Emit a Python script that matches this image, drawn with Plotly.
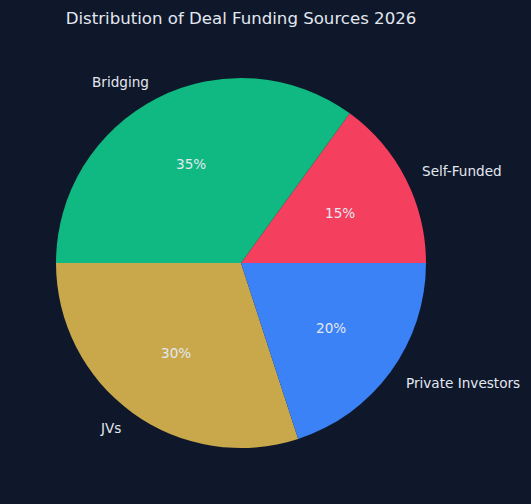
import math
import plotly.graph_objects as go

labels = ["Self-Funded", "Bridging", "JVs", "Private Investors"]
values = [15, 35, 30, 20]
colors = ["#F43F5E", "#10B981", "#C9A84C", "#3B82F6"]

BG = "#0f172a"
TXT = "#E2E8F0"
FONT = "DejaVu Sans"

total = sum(values)
# plotly places the first counterclockwise slice ending at the rotation angle;
# shift so the first slice starts at 3 o'clock (matplotlib startangle=0)
rot = 90 - 360 * values[0] / total

fig = go.Figure(go.Pie(
    labels=labels, values=values, sort=False,
    direction="counterclockwise", rotation=rot,
    marker=dict(colors=colors, line=dict(width=0)),
    textinfo="none", hoverinfo="label+percent", showlegend=False,
))

annotations = []
start = 0.0
for lab, v in zip(labels, values):
    mid = math.radians(start + 360 * v / total / 2)
    start += 360 * v / total
    c, s = math.cos(mid), math.sin(mid)
    annotations.append(dict(
        x=0.5 + 0.55 * c, y=0.5 + 0.55 * s, xref="paper", yref="paper",
        text=lab, showarrow=False, xanchor="left" if c > 0 else "right",
        xshift=-2 if c > 0 else 2,
        yanchor="middle", font=dict(family=FONT, size=13.6, color=TXT)))
    annotations.append(dict(
        x=0.5 + 0.3 * c, y=0.5 + 0.3 * s, xref="paper", yref="paper",
        text=f"{v / total * 100:.0f}%", showarrow=False, xanchor="center",
        yanchor="middle", font=dict(family=FONT, size=13.6, color=TXT)))

fig.update_layout(
    width=531, height=504,
    margin=dict(l=56, r=105, t=78, b=56),
    paper_bgcolor=BG, plot_bgcolor=BG,
    title=dict(text="Distribution of Deal Funding Sources 2026",
               x=241 / 531, xanchor="center", y=1 - 18 / 504, yanchor="middle",
               yref="container", font=dict(family=FONT, size=16.6, color=TXT)),
    annotations=annotations,
)

fig.write_html("out.html")
